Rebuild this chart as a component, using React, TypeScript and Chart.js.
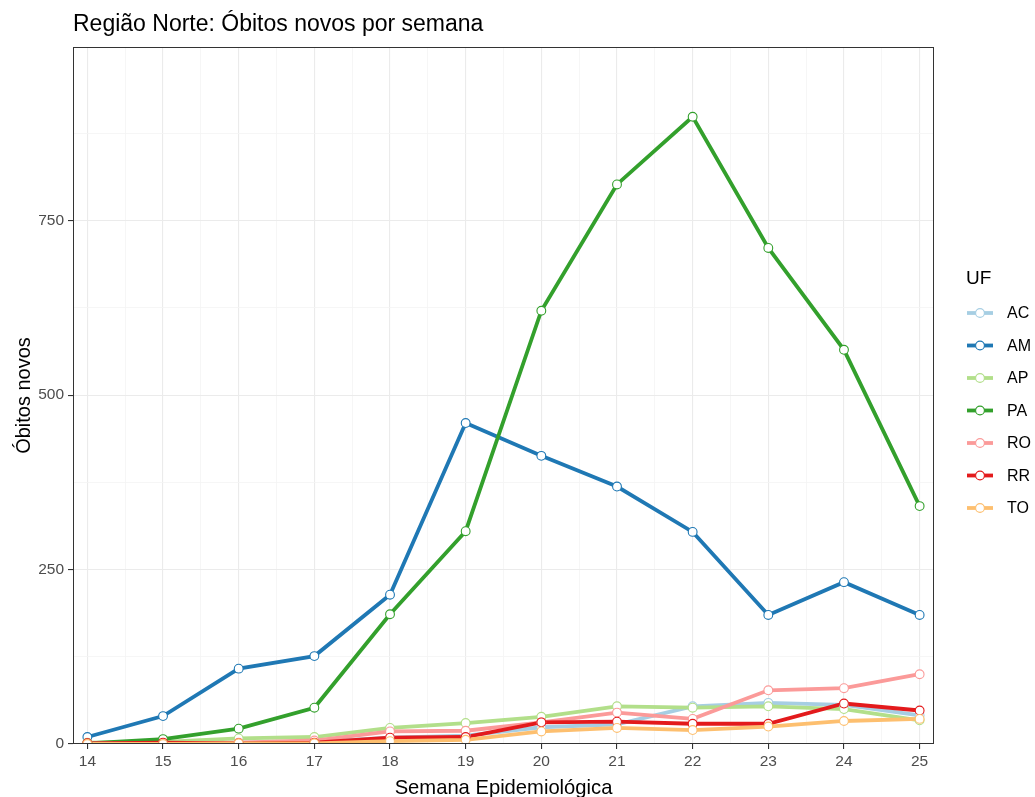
import React, { useEffect, useRef } from "react";
import { Chart, registerables } from "chart.js";

Chart.register(...registerables);

const FONT = "'Liberation Sans', Arial, Helvetica, sans-serif";

const weeks = [14, 15, 16, 17, 18, 19, 20, 21, 22, 23, 24, 25];
const xMinorTicks = [14.5, 15.5, 16.5, 17.5, 18.5, 19.5, 20.5, 21.5, 22.5, 23.5, 24.5];
const yMajorTicks = [0, 250, 500, 750];
const yMinorTicks = [125, 375, 625, 875];

const seriesNames = ["AC", "AM", "AP", "PA", "RO", "RR", "TO"];
const seriesColors = ["#A6CEE3", "#1F78B4", "#B2DF8A", "#33A02C", "#FB9A99", "#E31A1C", "#FDBF6F"];

const acValues = [1, 1, 2, 3, 9, 12, 24, 28, 54, 59, 56, 41];
const amValues = [10, 40, 108, 126, 214, 460, 413, 369, 304, 185, 232, 185];
const apValues = [2, 3, 8, 10, 23, 30, 39, 54, 52, 54, 50, 34];
const paValues = [1, 7, 22, 52, 186, 305, 621, 802, 899, 711, 565, 341];
const roValues = [1, 1, 2, 5, 18, 19, 31, 45, 36, 77, 80, 100];
const rrValues = [1, 2, 1, 2, 9, 10, 31, 32, 29, 29, 58, 48];
const toValues = [0, 0, 1, 1, 4, 6, 18, 23, 20, 25, 33, 36];

const seriesValues = [acValues, amValues, apValues, paValues, roValues, rrValues, toValues];

const titleText = "Região Norte: Óbitos novos por semana";
const xTitle = "Semana Epidemiológica";
const yTitle = "Óbitos novos";
const legendTitle = "UF";

const panelBorderPlugin = {
  id: "panelBorder",
  afterDatasetsDraw(chart: any) {
    const { ctx, chartArea } = chart;
    ctx.save();
    ctx.strokeStyle = "#333333";
    ctx.lineWidth = 1;
    ctx.strokeRect(
      Math.round(chartArea.left) + 0.5,
      Math.round(chartArea.top) + 0.5,
      Math.round(chartArea.right - chartArea.left) - 1,
      Math.round(chartArea.bottom - chartArea.top) - 1
    );
    ctx.restore();
  },
};

const legendPlugin = {
  id: "ggLegend",
  afterDraw(chart: any) {
    const { ctx } = chart;
    ctx.save();
    ctx.fillStyle = "#000000";
    ctx.textAlign = "left";
    ctx.textBaseline = "middle";
    ctx.font = `19px ${FONT}`;
    ctx.fillText(legendTitle, 966, 279);
    const x0 = 967;
    const x1 = 993;
    const cx = 980;
    seriesNames.forEach((name, i) => {
      const y = 313 + i * 32.5;
      ctx.strokeStyle = seriesColors[i];
      ctx.lineWidth = 3.8;
      ctx.beginPath();
      ctx.moveTo(x0, y);
      ctx.lineTo(x1, y);
      ctx.stroke();
      ctx.beginPath();
      ctx.arc(cx, y, 4.4, 0, Math.PI * 2);
      ctx.fillStyle = "#FFFFFF";
      ctx.fill();
      ctx.lineWidth = 1.1;
      ctx.stroke();
      ctx.fillStyle = "#000000";
      ctx.font = `16px ${FONT}`;
      ctx.fillText(name, 1007, y + 1);
    });
    ctx.restore();
  },
};

function gridColor(major: boolean) {
  return major ? "#EBEBEB" : "#F4F4F4";
}

export default function App() {
  const canvasRef = useRef<HTMLCanvasElement | null>(null);

  useEffect(() => {
    document.body.style.margin = "0";
    const canvas = canvasRef.current;
    if (!canvas) return;

    const lineSets = seriesNames.map((name, i) => ({
      label: name,
      data: weeks.map((w, j) => ({ x: w, y: seriesValues[i][j] })),
      borderColor: seriesColors[i],
      backgroundColor: seriesColors[i],
      borderWidth: 3.8,
      pointRadius: 0,
      tension: 0,
      fill: false,
      clip: 0,
      order: 20 + (seriesNames.length - i),
    }));
    const pointSets = seriesNames.map((name, i) => ({
      label: name + " pts",
      data: weeks.map((w, j) => ({ x: w, y: seriesValues[i][j] })),
      showLine: false,
      borderColor: seriesColors[i],
      pointBorderColor: seriesColors[i],
      pointBackgroundColor: "#FFFFFF",
      pointRadius: 4.4,
      pointBorderWidth: 1.1,
      clip: 0,
      order: seriesNames.length - i,
    }));

    const chart = new Chart(canvas, {
      type: "line",
      data: { datasets: [...lineSets, ...pointSets] as any },
      options: {
        responsive: false,
        animation: false,
        events: [],
        layout: { padding: { left: 0, right: 101, top: 0, bottom: 0 } },
        plugins: {
          legend: { display: false },
          tooltip: { enabled: false },
          title: {
            display: true,
            text: titleText,
            align: "start",
            fullSize: false,
            color: "#000000",
            font: { size: 23, family: FONT, weight: "normal" as any, lineHeight: 1.2 },
            padding: { top: 10.5, bottom: 8.9 },
          },
        },
        scales: {
          x: {
            type: "linear",
            min: 13.81,
            max: 25.19,
            afterBuildTicks: (s: any) => {
              s.ticks = [...weeks, ...xMinorTicks].sort((a, b) => a - b).map((v) => ({ value: v }));
            },
            afterFit: (s: any) => {
              s.height = 53;
            },
            border: { display: false },
            grid: {
              color: (c: any) => gridColor(c.tick ? Number.isInteger(c.tick.value) : true),
              lineWidth: (c: any) => (c.tick && Number.isInteger(c.tick.value) ? 1.1 : 0.8),
              tickLength: 5,
              tickColor: (c: any) => (c.tick && Number.isInteger(c.tick.value) ? "#333333" : "rgba(0,0,0,0)"),
              tickWidth: 1.1,
            },
            ticks: {
              autoSkip: false,
              maxRotation: 0,
              minRotation: 0,
              padding: 3,
              color: "#4D4D4D",
              font: { size: 15.5, family: FONT },
              callback: (v: any) => (Number.isInteger(v) ? String(v) : ""),
            },
            title: {
              display: true,
              text: xTitle,
              color: "#000000",
              font: { size: 20.2, family: FONT, lineHeight: 0.8 },
              padding: { top: 0, bottom: 0.2 },
            },
          },
          y: {
            type: "linear",
            min: 0,
            max: 999,
            afterBuildTicks: (s: any) => {
              s.ticks = [...yMajorTicks, ...yMinorTicks].sort((a, b) => a - b).map((v) => ({ value: v }));
            },
            afterFit: (s: any) => {
              s.width = 73;
            },
            border: { display: false },
            grid: {
              color: (c: any) => gridColor(c.tick ? yMajorTicks.includes(c.tick.value) : true),
              lineWidth: (c: any) => (c.tick && yMajorTicks.includes(c.tick.value) ? 1.1 : 0.8),
              tickLength: 5,
              tickColor: (c: any) => (c.tick && yMajorTicks.includes(c.tick.value) ? "#333333" : "rgba(0,0,0,0)"),
              tickWidth: 1.1,
            },
            ticks: {
              autoSkip: false,
              padding: 4,
              color: "#4D4D4D",
              font: { size: 15.5, family: FONT },
              callback: (v: any) => (yMajorTicks.includes(v) ? String(v) : ""),
            },
            title: {
              display: true,
              text: yTitle,
              color: "#000000",
              font: { size: 20, family: FONT, lineHeight: 1.2 },
              padding: { top: 12.5, bottom: 0 },
            },
          },
        },
      },
      plugins: [panelBorderPlugin, legendPlugin],
    });

    return () => {
      chart.destroy();
    };
  }, []);

  return (
    <div style={{ width: 1035, height: 797, background: "#FFFFFF" }}>
      <canvas ref={canvasRef} width={1035} height={797} style={{ display: "block" }} />
    </div>
  );
}
